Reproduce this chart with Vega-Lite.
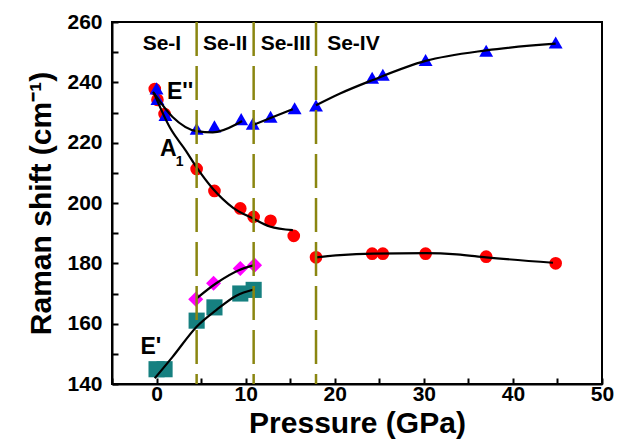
{
  "$schema": "https://vega.github.io/schema/vega-lite/v6.json",
  "width": 490,
  "height": 362,
  "autosize": {"type": "none"},
  "padding": {"left": 112, "top": 22, "right": 15, "bottom": 57},
  "background": "white",
  "config": {
    "view": {"stroke": "black", "strokeWidth": 2},
    "font": "Liberation Sans",
    "axis": {
      "grid": false,
      "domainColor": "black",
      "domainWidth": 2,
      "tickColor": "black",
      "tickWidth": 2,
      "tickSize": -6,
      "labelFont": "Liberation Sans",
      "labelFontWeight": "bold",
      "labelFontSize": 21,
      "labelColor": "black",
      "titleFont": "Liberation Sans",
      "titleFontWeight": "bold",
      "titleFontSize": 30,
      "titleColor": "black"
    }
  },
  "datasets": {
    "pts": [
      {"series": "A1", "p": -0.2, "v": 237.8},
      {"series": "A1", "p": 0.1, "v": 234.2},
      {"series": "A1", "p": 0.9, "v": 229.5},
      {"series": "A1", "p": 4.5, "v": 211.3},
      {"series": "A1", "p": 6.5, "v": 204.0},
      {"series": "A1", "p": 9.4, "v": 198.2},
      {"series": "A1", "p": 10.9, "v": 195.4},
      {"series": "A1", "p": 12.8, "v": 194.1},
      {"series": "A1", "p": 15.4, "v": 189.1},
      {"series": "A1", "p": 17.9, "v": 182.0},
      {"series": "A1", "p": 24.2, "v": 183.2},
      {"series": "A1", "p": 25.4, "v": 183.2},
      {"series": "A1", "p": 30.2, "v": 183.2},
      {"series": "A1", "p": 37.0, "v": 182.2},
      {"series": "A1", "p": 44.8, "v": 180.0},
      {"series": "E2", "p": 0.0, "v": 238.0},
      {"series": "E2", "p": 0.1, "v": 234.5},
      {"series": "E2", "p": 1.0, "v": 229.2},
      {"series": "E2", "p": 4.5, "v": 224.6},
      {"series": "E2", "p": 6.5, "v": 225.4},
      {"series": "E2", "p": 9.5, "v": 227.8},
      {"series": "E2", "p": 10.8, "v": 226.3},
      {"series": "E2", "p": 12.8, "v": 228.6},
      {"series": "E2", "p": 15.5, "v": 231.4},
      {"series": "E2", "p": 17.9, "v": 232.3},
      {"series": "E2", "p": 24.2, "v": 241.5},
      {"series": "E2", "p": 25.4, "v": 242.5},
      {"series": "E2", "p": 30.2, "v": 247.4},
      {"series": "E2", "p": 37.0, "v": 250.5},
      {"series": "E2", "p": 44.8, "v": 253.2},
      {"series": "D", "p": 4.4, "v": 168.1},
      {"series": "D", "p": 6.4, "v": 173.4},
      {"series": "D", "p": 9.4, "v": 178.3},
      {"series": "D", "p": 11.0, "v": 179.4},
      {"series": "E1", "p": 0.0, "v": 144.9},
      {"series": "E1", "p": 0.9, "v": 144.9},
      {"series": "E1", "p": 4.5, "v": 161.0},
      {"series": "E1", "p": 6.5, "v": 165.4},
      {"series": "E1", "p": 9.4, "v": 170.0},
      {"series": "E1", "p": 10.9, "v": 171.2}
    ],
    "fits": [
      {"seg": "e2a", "p": -0.4, "v": 236.8},
      {"seg": "e2a", "p": 1.8, "v": 228.5},
      {"seg": "e2a", "p": 4.5, "v": 223.8},
      {"seg": "e2a", "p": 6.3, "v": 223.4},
      {"seg": "e2a", "p": 8.9, "v": 226.0},
      {"seg": "e2a", "p": 9.6, "v": 227.2},
      {"seg": "e2b", "p": 10.8, "v": 225.8},
      {"seg": "e2b", "p": 13.0, "v": 228.4},
      {"seg": "e2b", "p": 15.3, "v": 231.1},
      {"seg": "e2c", "p": 17.9, "v": 232.4},
      {"seg": "e2c", "p": 20.6, "v": 236.3},
      {"seg": "e2c", "p": 24.2, "v": 240.7},
      {"seg": "e2c", "p": 30.2, "v": 247.1},
      {"seg": "e2c", "p": 37.0, "v": 250.6},
      {"seg": "e2c", "p": 44.8, "v": 252.8},
      {"seg": "a1a", "p": -0.3, "v": 236.5},
      {"seg": "a1a", "p": 1.5, "v": 225.0},
      {"seg": "a1a", "p": 3.3, "v": 217.3},
      {"seg": "a1a", "p": 4.5, "v": 211.8},
      {"seg": "a1a", "p": 6.3, "v": 204.8},
      {"seg": "a1a", "p": 8.6, "v": 198.4},
      {"seg": "a1a", "p": 10.8, "v": 194.9},
      {"seg": "a1a", "p": 12.7, "v": 192.2},
      {"seg": "a1a", "p": 15.3, "v": 191.0},
      {"seg": "a1b", "p": 17.9, "v": 182.0},
      {"seg": "a1b", "p": 20.6, "v": 182.7},
      {"seg": "a1b", "p": 24.3, "v": 183.2},
      {"seg": "a1b", "p": 30.2, "v": 183.4},
      {"seg": "a1b", "p": 33.7, "v": 183.0},
      {"seg": "a1b", "p": 37.0, "v": 182.0},
      {"seg": "a1b", "p": 44.5, "v": 180.2},
      {"seg": "d", "p": 4.5, "v": 168.4},
      {"seg": "d", "p": 6.7, "v": 173.4},
      {"seg": "d", "p": 9.3, "v": 177.8},
      {"seg": "d", "p": 11.0, "v": 179.4},
      {"seg": "e1", "p": -0.2, "v": 141.9},
      {"seg": "e1", "p": 1.8, "v": 149.0},
      {"seg": "e1", "p": 4.5, "v": 159.0},
      {"seg": "e1", "p": 6.7, "v": 164.5},
      {"seg": "e1", "p": 8.9, "v": 169.2},
      {"seg": "e1", "p": 11.0, "v": 171.4}
    ],
    "phases": [
      {"p": 4.5},
      {"p": 10.9},
      {"p": 17.9}
    ],
    "labels": [
      {"t": "Se-I", "p": 0.6, "v": 252.8, "size": 21},
      {"t": "Se-II", "p": 7.7, "v": 252.8, "size": 21},
      {"t": "Se-III", "p": 14.5, "v": 252.8, "size": 21},
      {"t": "Se-IV", "p": 22.1, "v": 252.8, "size": 21},
      {"t": "E''", "p": 2.65, "v": 236.7, "size": 23},
      {"t": "A", "p": 1.32, "v": 217.8, "size": 23},
      {"t": "1", "p": 2.6, "v": 213.5, "size": 14},
      {"t": "E'", "p": -0.64, "v": 152.4, "size": 23}
    ]
  },
  "encoding": {
    "x": {
      "field": "p", "type": "quantitative",
      "scale": {"domain": [-5, 50], "nice": false, "zero": false},
      "axis": {
        "title": "Pressure (GPa)",
        "values": [-5, 0, 5, 10, 15, 20, 25, 30, 35, 40, 45, 50],
        "labelExpr": "datum.value % 10 === 0 ? datum.label : ''",
        "labelPadding": 5,
        "titlePadding": 4,
        "labelFlush": false
      }
    },
    "y": {
      "field": "v", "type": "quantitative",
      "scale": {"domain": [140, 260], "nice": false, "zero": false},
      "axis": {
        "title": "Raman shift (cm⁻¹)",
        "values": [140, 150, 160, 170, 180, 190, 200, 210, 220, 230, 240, 250, 260],
        "labelExpr": "datum.value % 20 === 0 ? datum.label : ''",
        "labelPadding": 16,
        "titlePadding": 10,
        "labelFlush": false
      }
    }
  },
  "layer": [
    {
      "data": {"name": "pts"},
      "mark": {"type": "point", "filled": true, "opacity": 1, "strokeWidth": 0},
      "encoding": {
        "shape": {
          "field": "series", "type": "nominal", "legend": null,
          "scale": {"domain": ["A1", "E2", "D", "E1"], "range": ["circle", "triangle-up", "diamond", "square"]}
        },
        "color": {
          "field": "series", "type": "nominal", "legend": null,
          "scale": {"domain": ["A1", "E2", "D", "E1"], "range": ["#ff0000", "#0000ff", "#ff00ff", "#168080"]}
        },
        "size": {
          "field": "series", "type": "nominal", "legend": null,
          "scale": {"domain": ["A1", "E2", "D", "E1"], "range": [160, 260, 210, 170]}
        }
      }
    },
    {
      "data": {"name": "fits"},
      "mark": {"type": "line", "color": "black", "strokeWidth": 2.2, "interpolate": "monotone"},
      "encoding": {
        "detail": {"field": "seg", "type": "nominal"}
      }
    },
    {
      "data": {"name": "phases"},
      "mark": {"type": "rule", "color": "#8a8610", "strokeWidth": 2.5, "strokeDash": [34, 10]},
      "encoding": {"y": {"value": 0}, "y2": {"value": 362}}
    },
    {
      "data": {"name": "labels"},
      "mark": {"type": "text", "font": "Liberation Sans", "fontWeight": "bold", "color": "black", "baseline": "middle", "align": "center"},
      "encoding": {
        "text": {"field": "t"},
        "size": {"field": "size", "type": "quantitative", "scale": null}
      }
    }
  ]
}
